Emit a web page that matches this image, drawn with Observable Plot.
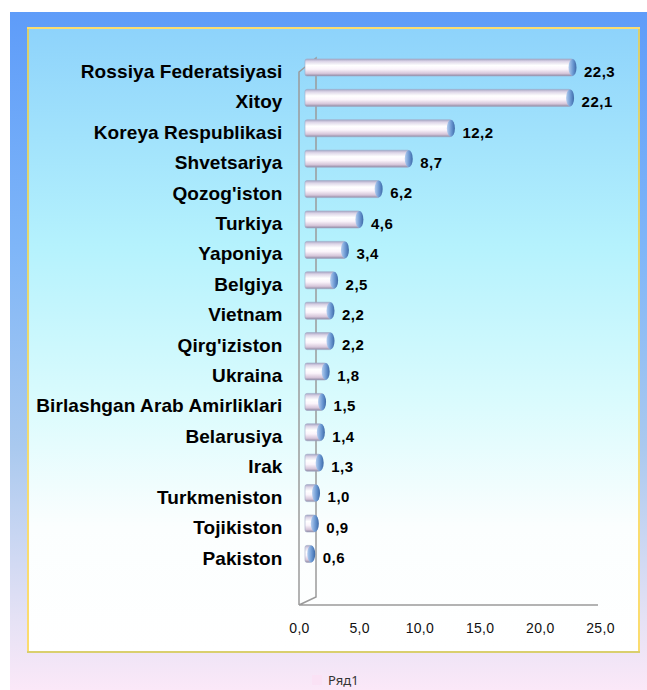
<!DOCTYPE html>
<html>
<head>
<meta charset="utf-8">
<script src="https://cdn.jsdelivr.net/npm/d3@7"></script>
<script src="https://cdn.jsdelivr.net/npm/@observablehq/plot@0.6"></script>
<style>
  body { margin: 0; background: #fff; }
  #wrap { position: relative; width: 647px; height: 690px; overflow: hidden; background: #fff; }
  #outer { position: absolute; left: 10px; top: 12px; right: 0; bottom: 0;
    background: linear-gradient(to bottom, #5e9cf9 0%, #7fb6f8 35%, #a9c9ef 64%, #e6e2f5 90%, #fbe8f8 100%); }
  #inner { position: absolute; left: 27px; top: 27px; width: 609px; height: 622px;
    border: 2px solid rgba(250, 205, 50, 0.7);
    background: linear-gradient(to bottom, #8ed3fb 0%, #b5f2fd 35%, #dafbfd 60%, #fbfefe 80%, #ffffff 100%); }
  #chart { position: absolute; left: 0; top: 0; }
  #legend { position: absolute; left: 312px; top: 671px; font-family: "Noto Sans", sans-serif; font-size: 13px; color: #333; display: flex; align-items: center; }
  #legend .sw { width: 10px; height: 10px; background: #fae2f5; margin-right: 6px; }
  svg [aria-label="y-axis tick label"] text { letter-spacing: 0.1px; }
  svg [aria-label="text"] text { letter-spacing: 0.5px; }
  svg [aria-label="x-axis tick label"] text { letter-spacing: 0.3px; }
</style>
</head>
<body>
<svg width="0" height="0" style="position:absolute">
  <defs>
    <linearGradient id="barBody" x1="0" y1="0" x2="0" y2="1">
      <stop offset="0%" stop-color="#a8a6c4"/>
      <stop offset="15%" stop-color="#ddd6e8"/>
      <stop offset="38%" stop-color="#ffffff"/>
      <stop offset="60%" stop-color="#fbf4fb"/>
      <stop offset="85%" stop-color="#d6c6da"/>
      <stop offset="100%" stop-color="#8f88a2"/>
    </linearGradient>
    <linearGradient id="barCap" x1="0" y1="0" x2="1" y2="0">
      <stop offset="0%" stop-color="#b6cff0"/>
      <stop offset="55%" stop-color="#6b98d2"/>
      <stop offset="100%" stop-color="#3d6aa8"/>
    </linearGradient>
  </defs>
</svg>
<div id="wrap">
  <div id="outer"></div>
  <div id="inner"></div>
  <div id="chart"></div>
  <div id="legend"><div class="sw"></div><span>Ряд1</span></div>
</div>
<script>
const countries = ["Rossiya Federatsiyasi", "Xitoy", "Koreya Respublikasi", "Shvetsariya", "Qozog'iston", "Turkiya", "Yaponiya", "Belgiya", "Vietnam", "Qirg'iziston", "Ukraina", "Birlashgan Arab Amirliklari", "Belarusiya", "Irak", "Turkmeniston", "Tojikiston", "Pakiston"];
const values = [22.3, 22.1, 12.2, 8.7, 6.2, 4.6, 3.4, 2.5, 2.2, 2.2, 1.8, 1.5, 1.4, 1.3, 1.0, 0.9, 0.6];
const xTicks = [0, 5, 10, 15, 20, 25];

const data = countries.map((c, i) => ({country: c, value: values[i]}));
const fmt = v => v.toFixed(1).replace(".", ",");

// 3D wall outline drawn from the scales
function frame3d(index, scales, values, dims) {
  const ns = "http://www.w3.org/2000/svg";
  const g = document.createElementNS(ns, "g");
  const x0 = scales.x(xTicks[0]);
  const xEnd = scales.x(xTicks[xTicks.length - 1]) - 2;
  const yb = dims.height - dims.marginBottom;
  const yt = dims.marginTop;
  const dx = 17, dyt = -14, dyb = -8;
  const d = `M${x0},${yb}L${x0},${yt}L${x0 + dx},${yt + dyt}L${x0 + dx},${yb + dyb}L${x0},${yb}M${x0},${yb}L${xEnd},${yb}`;
  const p = document.createElementNS(ns, "path");
  p.setAttribute("d", d);
  p.setAttribute("fill", "none");
  p.setAttribute("stroke", "#9a9a9a");
  p.setAttribute("stroke-width", "1.5");
  g.appendChild(p);
  return g;
}

const chart = Plot.plot({
  width: 647,
  height: 690,
  marginLeft: 299,
  marginRight: 47,
  marginTop: 72,
  marginBottom: 85,
  style: {background: "transparent", fontFamily: "'Liberation Sans', Arial, sans-serif", overflow: "visible"},
  x: {domain: [0, 25], label: null},
  y: {domain: countries, range: [45.6, 575.8], padding: 0.44, round: false, label: null},
  marks: [
    frame3d,
    Plot.barX(data, {x1: 0, x2: "value", y: "country", dx: 6, fill: "url(#barBody)", stroke: "#9fa9c6", strokeWidth: 0.6, rx: 2}),
    Plot.barX(data, {x1: "value", x2: "value", y: "country", dx: 5, insetLeft: -4, insetRight: -4, fill: "url(#barCap)", rx: 4, ry: 8.5}),
    Plot.text(data, {x: "value", y: "country", text: d => fmt(d.value), textAnchor: "start", dx: 16, dy: 4, fontSize: 15, fontWeight: "bold", fill: "#000"}),
    Plot.axisY({tickSize: 0, tickPadding: 17, fontSize: 19, fontWeight: "bold", dy: 4, fill: "#000", label: null}),
    Plot.axisX({ticks: xTicks, tickFormat: fmt, tickSize: 0, tickPadding: 18, fontSize: 14, fill: "#111", label: null})
  ]
});
document.getElementById("chart").appendChild(chart);
</script>
</body>
</html>
